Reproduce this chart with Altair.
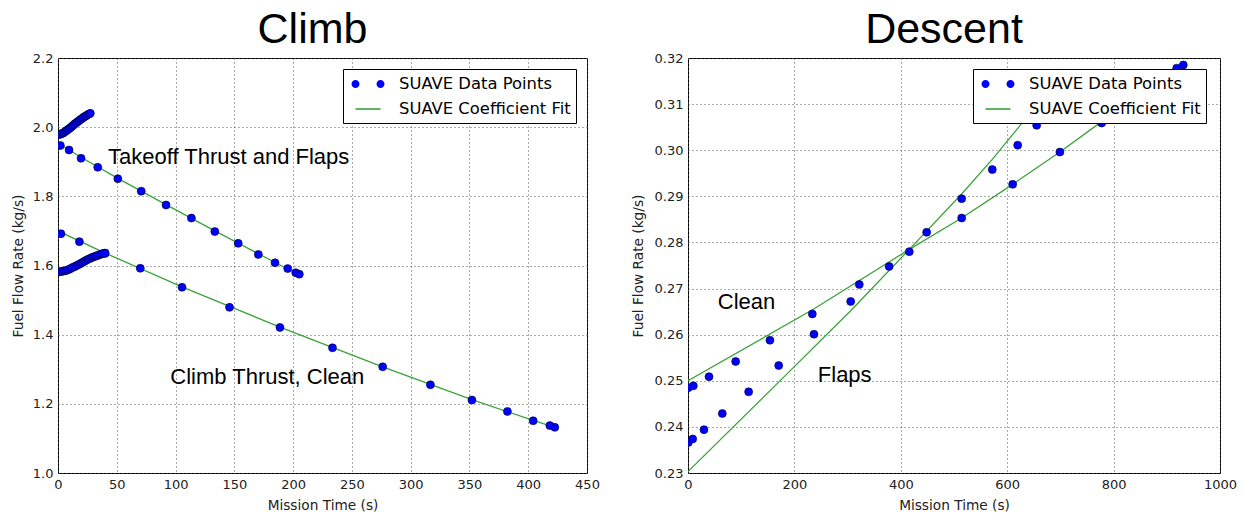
import altair as alt
import pandas as pd

PTS = "SUAVE Data Points"
FIT = "SUAVE Coefficient Fit"

# ---------------- Climb panel ----------------
# takeoff thrust & flaps, dense initial segment
to_curve_t = [0, 1.2, 2.4, 3.6, 4.8, 6, 7.2, 8.4, 9.6, 10.8, 12, 13.2, 14.4, 15.6,
              16.8, 18, 19.2, 20.4, 21.6, 22.8, 24, 25.2, 26.4, 27.5]
to_curve_v = [1.978, 1.979, 1.980, 1.982, 1.984, 1.987, 1.990, 1.993, 1.996, 1.999,
              2.003, 2.006, 2.010, 2.013, 2.016, 2.019, 2.022, 2.025, 2.028, 2.031,
              2.033, 2.036, 2.038, 2.040]
# takeoff thrust & flaps, linear segment
to_line_t = [2, 9.4, 19.6, 33.8, 50.9, 70.8, 91.9, 113.5, 133.4, 153.3, 170.4,
             184.6, 195.4, 202.2, 205.3]
to_line_v = [1.947, 1.934, 1.910, 1.884, 1.851, 1.815, 1.775, 1.737, 1.698, 1.664,
             1.632, 1.608, 1.591, 1.579, 1.575]
to_fit_t = [0, 19.6, 50.9, 91.9, 133.4, 170.4, 195.4, 205.3]
to_fit_v = [1.954, 1.913, 1.852, 1.776, 1.700, 1.634, 1.590, 1.574]

# climb thrust, clean, dense initial segment
cl_curve_t = [0, 1.6, 3.2, 4.8, 6.4, 8, 9.6, 11.2, 12.8, 14.4, 16, 17.6, 19.2, 20.8,
              22.4, 24, 25.6, 27.2, 28.8, 30.4, 32, 33.6, 35.2, 36.8, 38.4, 40]
cl_curve_v = [1.582, 1.582, 1.583, 1.584, 1.585, 1.587, 1.589, 1.592, 1.595, 1.597,
              1.600, 1.603, 1.606, 1.609, 1.612, 1.615, 1.618, 1.620, 1.623, 1.625,
              1.627, 1.629, 1.631, 1.633, 1.635, 1.636]
# climb thrust, clean, linear segment
cl_line_t = [2.5, 18.2, 40.1, 70, 105.5, 145.9, 188.8, 233.5, 276.2, 316.8, 352.1,
             382.3, 404.2, 418.4, 422.6]
cl_line_v = [1.692, 1.669, 1.635, 1.592, 1.537, 1.479, 1.421, 1.362, 1.307, 1.255,
             1.211, 1.178, 1.151, 1.137, 1.132]
cl_fit_t = [0, 40.1, 105.5, 188.8, 276.2, 352.1, 404.2, 422.6]
cl_fit_v = [1.700, 1.636, 1.538, 1.422, 1.307, 1.212, 1.152, 1.132]

# ---------------- Descent panel ----------------
clean_t = [0.5, 10, 39.5, 89.6, 154, 233.7, 322, 378, 448.6, 514.4, 610.3, 699,
           777.6, 918.6, 931]
clean_v = [0.2485, 0.2489, 0.2509, 0.2542, 0.2588, 0.2645, 0.2709, 0.2748, 0.2822,
           0.2853, 0.2926, 0.2996, 0.3059, 0.3178, 0.3185]
clean_fit_t = [0, 235.6, 416, 514.4, 610.3, 699, 777.6, 931]
clean_fit_v = [0.2500, 0.2655, 0.2785, 0.2853, 0.2926, 0.2996, 0.3062, 0.3190]

flaps_t = [0.5, 8.8, 30, 64.5, 114, 170.5, 236.8, 305.8, 416, 514.4, 572, 619.7, 655.4]
flaps_v = [0.2366, 0.2374, 0.2394, 0.2429, 0.2476, 0.2533, 0.2601, 0.2672, 0.2780,
           0.2895, 0.2958, 0.3011, 0.3054]
flaps_fit_t = [0, 170.5, 305.8, 416, 514.4, 572, 630, 700]
flaps_fit_v = [0.2303, 0.2497, 0.2652, 0.2785, 0.2905, 0.2980, 0.3062, 0.3160]

# annotations
climb_notes = ["Takeoff Thrust and Flaps", "Climb Thrust, Clean"]
climb_notes_t = [42.5, 95.5]
climb_notes_v = [1.914, 1.278]
descent_notes = ["Clean", "Flaps"]
descent_notes_t = [56, 244]
descent_notes_v = [0.2670, 0.2513]

legend_labels = [PTS, FIT]


def pts_df(pairs):
    rows = []
    for t, v in pairs:
        rows += [{"t": a, "v": b} for a, b in zip(t, v)]
    return pd.DataFrame(rows)


def fit_df(pairs):
    rows = []
    for i, (t, v) in enumerate(pairs):
        rows += [{"t": a, "v": b, "seg": i} for a, b in zip(t, v)]
    return pd.DataFrame(rows)


TWO_DOTS = ("M -1.65 0 A 0.4 0.4 0 1 0 -0.85 0 A 0.4 0.4 0 1 0 -1.65 0 Z "
            "M 0.85 0 A 0.4 0.4 0 1 0 1.65 0 A 0.4 0.4 0 1 0 0.85 0 Z")
BAR = "M -1.25 -0.08 L 1.25 -0.08 L 1.25 0.08 L -1.25 0.08 Z"
BLUE = "#0000ff"
GREEN = "#3aa33a"

legend = alt.Legend(
    title=None, orient="none", legendX=285, legendY=11,
    fillColor="white", strokeColor="black", padding=5, cornerRadius=0,
    labelFont="DejaVu Sans", labelFontSize=16.4, labelColor="black", labelLimit=400,
    symbolSize=400, symbolOffset=10, labelOffset=21, rowPadding=6,
    symbolStrokeWidth=0, symbolOpacity=1,
)
color_enc = alt.Color("kind:N", scale=alt.Scale(domain=legend_labels, range=[BLUE, GREEN]),
                      legend=legend)
shape_enc = alt.Shape("kind:N", scale=alt.Scale(domain=legend_labels, range=[TWO_DOTS, BAR]),
                      legend=legend)


def panel(pdf, fdf, notes, title, xdom, xvals, ydom, yvals, yfmt, w, tpad):
    x = alt.X("t:Q", scale=alt.Scale(domain=xdom, nice=False, zero=False),
              axis=alt.Axis(title="Mission Time (s)", values=xvals, format="d",
                            titlePadding=7))
    y = alt.Y("v:Q", scale=alt.Scale(domain=ydom, nice=False, zero=False),
              axis=alt.Axis(title="Fuel Flow Rate (kg/s)", values=yvals, format=yfmt,
                            titlePadding=tpad))
    # legend key only (rows carry no position, so nothing is drawn in the plot)
    key = alt.Chart(pd.DataFrame({"kind": legend_labels, "t": [None, None],
                                  "v": [None, None]})).mark_point(
        filled=True, opacity=1, strokeWidth=0).encode(
        x=x, y=y, color=color_enc, shape=shape_enc)
    lines = alt.Chart(fdf).mark_line(strokeWidth=1.3, clip=True, color=GREEN).encode(
        x="t:Q", y="v:Q", detail="seg:N", order="t:Q")
    points = alt.Chart(pdf).mark_circle(size=64, opacity=1, color=BLUE, stroke="#00002a",
                                        strokeWidth=0.6, clip=True).encode(
        x="t:Q", y="v:Q")
    text = alt.Chart(notes).mark_text(align="left", baseline="middle",
                                      font="Liberation Sans", fontSize=22,
                                      color="black").encode(
        x="t:Q", y="v:Q", text="label:N")
    return alt.layer(key, lines, points, text).properties(
        width=w, height=415,
        title=alt.TitleParams(title, font="Liberation Sans", fontSize=43,
                              fontWeight="normal", color="black", anchor="middle",
                              baseline="alphabetic", offset=-34, dx=-10))


climb = panel(
    pts_df([(to_curve_t, to_curve_v), (to_line_t, to_line_v),
            (cl_curve_t, cl_curve_v), (cl_line_t, cl_line_v)]),
    fit_df([(to_curve_t, to_curve_v), (to_fit_t, to_fit_v),
            (cl_curve_t, cl_curve_v), (cl_fit_t, cl_fit_v)]),
    pd.DataFrame({"label": climb_notes, "t": climb_notes_t, "v": climb_notes_v}),
    "Climb", [0, 450], list(range(0, 451, 50)), [1.0, 2.2],
    [1.0, 1.2, 1.4, 1.6, 1.8, 2.0, 2.2], ".1f", 529, 7)

descent = panel(
    pts_df([(clean_t, clean_v), (flaps_t, flaps_v)]),
    fit_df([(clean_fit_t, clean_fit_v), (flaps_fit_t, flaps_fit_v)]),
    pd.DataFrame({"label": descent_notes, "t": descent_notes_t, "v": descent_notes_v}),
    "Descent", [0, 1000], [0, 200, 400, 600, 800, 1000], [0.23, 0.32],
    [0.23, 0.24, 0.25, 0.26, 0.27, 0.28, 0.29, 0.30, 0.31, 0.32], ".2f", 532, 9)

chart = alt.hconcat(climb, descent, spacing=101, bounds="flush").properties(
    padding={"left": 10, "top": 8, "right": 5, "bottom": 5}
).resolve_scale(color="independent", shape="independent").configure_view(
    stroke="black", strokeWidth=1
).configure_axis(
    grid=True, gridColor="#555", gridDash=[1, 3], gridWidth=1, gridOpacity=1,
    domain=False, ticks=False, labelFlush=False, labelOverlap=False,
    labelFont="DejaVu Sans", labelFontSize=13, labelColor="#222", labelPadding=5,
    titleFont="DejaVu Sans", titleFontSize=13.7, titleFontWeight="normal",
    titleColor="#222",
)

chart.save("out.html", embed_options={"renderer": "svg", "actions": False})
